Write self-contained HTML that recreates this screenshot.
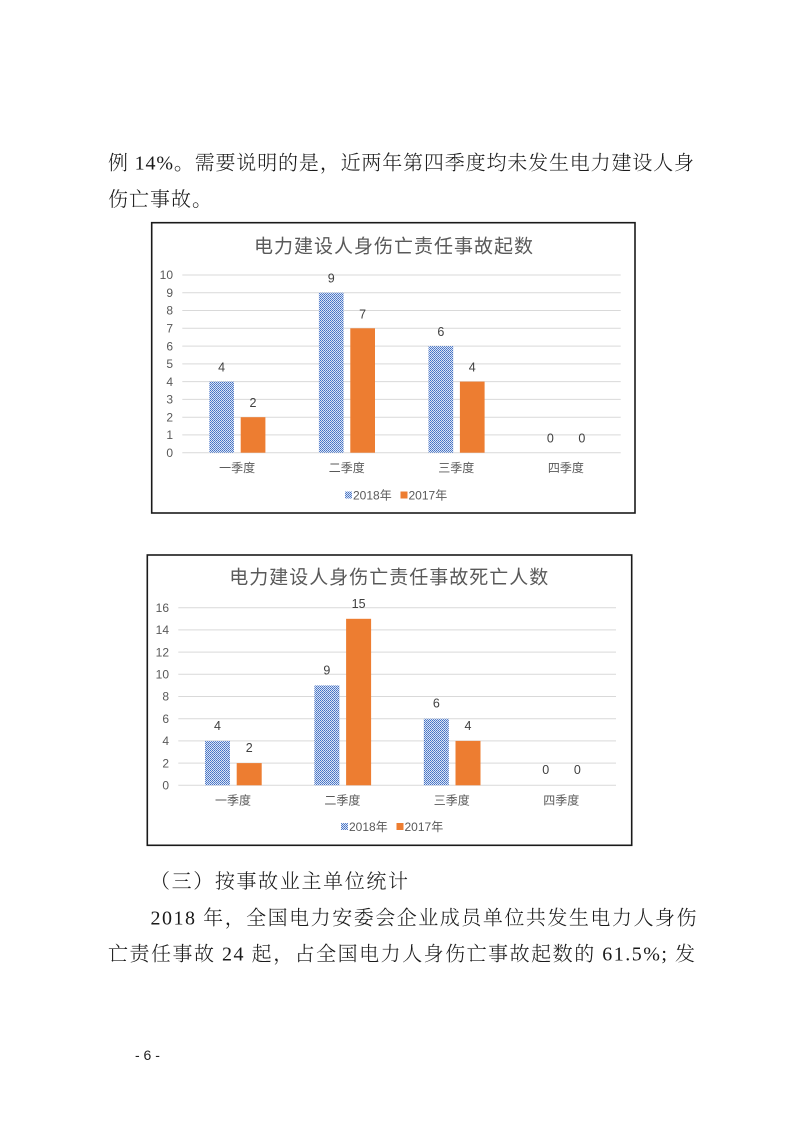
<!DOCTYPE html>
<html>
<head>
<meta charset="utf-8">
<style>
html,body{margin:0;padding:0;background:#fff;}
body{width:800px;height:1131px;overflow:hidden;}
svg{display:block;}
.body{font-family:"Liberation Serif","Noto Serif CJK SC",serif;font-size:20px;fill:#1a1a1a;font-weight:300;}
.ch{font-family:"Liberation Sans","Noto Sans CJK SC",sans-serif;}
.title{font-size:19px;fill:#595959;}
.ax{font-size:12px;fill:#595959;}
.dl{font-size:12.5px;fill:#404040;}
.cat{font-size:12px;fill:#595959;}
.grid{stroke:#d9d9d9;stroke-width:1;}
</style>
</head>
<body>
<svg width="800" height="1131" viewBox="0 0 800 1131" xmlns="http://www.w3.org/2000/svg">
<defs>
<pattern id="dots" width="2" height="2" patternUnits="userSpaceOnUse">
<rect width="2" height="2" fill="#dbe4f5"/>
<rect x="0" y="0" width="1" height="1" fill="#4472C4"/>
<rect x="1" y="1" width="1" height="1" fill="#5a82cc"/>
</pattern>
</defs>
<rect width="800" height="1131" fill="#fff"/>

<!-- top paragraph -->
<text class="body" x="108" y="169.5" textLength="586" lengthAdjust="spacing">例 14%。需要说明的是，近两年第四季度均未发生电力建设人身</text>
<text class="body" x="108" y="206" textLength="104" lengthAdjust="spacing">伤亡事故。</text>

<!-- Chart 1 -->
<rect x="151.7" y="222.7" width="483.3" height="290.3" fill="#fff" stroke="#1a1a1a" stroke-width="1.6"/>
<text class="ch title" x="394" y="252.5" text-anchor="middle" letter-spacing="1">电力建设人身伤亡责任事故起数</text>
<g class="grid">
<line x1="182.3" x2="620.7" y1="452.7" y2="452.7"/>
<line x1="182.3" x2="620.7" y1="434.9" y2="434.9"/>
<line x1="182.3" x2="620.7" y1="417.2" y2="417.2"/>
<line x1="182.3" x2="620.7" y1="399.4" y2="399.4"/>
<line x1="182.3" x2="620.7" y1="381.6" y2="381.6"/>
<line x1="182.3" x2="620.7" y1="363.9" y2="363.9"/>
<line x1="182.3" x2="620.7" y1="346.1" y2="346.1"/>
<line x1="182.3" x2="620.7" y1="328.3" y2="328.3"/>
<line x1="182.3" x2="620.7" y1="310.5" y2="310.5"/>
<line x1="182.3" x2="620.7" y1="292.8" y2="292.8"/>
<line x1="182.3" x2="620.7" y1="275.0" y2="275.0"/>
</g>
<g class="ch ax" text-anchor="end">
<text x="173" y="456.9">0</text>
<text x="173" y="439.1">1</text>
<text x="173" y="421.4">2</text>
<text x="173" y="403.6">3</text>
<text x="173" y="385.8">4</text>
<text x="173" y="368.1">5</text>
<text x="173" y="350.3">6</text>
<text x="173" y="332.5">7</text>
<text x="173" y="314.7">8</text>
<text x="173" y="297.0">9</text>
<text x="173" y="279.2">10</text>
</g>
<rect x="209.3" y="381.6" width="24.7" height="71.1" fill="url(#dots)"/>
<rect x="240.7" y="417.2" width="24.7" height="35.5" fill="#ED7D31"/>
<rect x="318.9" y="292.7" width="24.7" height="160" fill="url(#dots)"/>
<rect x="350.3" y="328.3" width="24.7" height="124.4" fill="#ED7D31"/>
<rect x="428.5" y="346.1" width="24.7" height="106.6" fill="url(#dots)"/>
<rect x="459.9" y="381.6" width="24.7" height="71.1" fill="#ED7D31"/>
<g class="ch dl" text-anchor="middle">
<text x="221.6" y="371.6">4</text>
<text x="253.0" y="407.2">2</text>
<text x="331.2" y="282.7">9</text>
<text x="362.6" y="318.3">7</text>
<text x="440.8" y="336.1">6</text>
<text x="472.2" y="371.6">4</text>
<text x="550.4" y="442.6">0</text>
<text x="581.8" y="442.6">0</text>
</g>
<g class="ch cat" text-anchor="middle">
<text x="237.1" y="472">一季度</text>
<text x="346.7" y="472">二季度</text>
<text x="456.3" y="472">三季度</text>
<text x="565.9" y="472">四季度</text>
</g>
<rect x="345" y="491.5" width="7" height="7" fill="url(#dots)"/>
<text class="ch cat" x="353" y="499.5">2018年</text>
<rect x="400.5" y="491.5" width="7" height="7" fill="#ED7D31"/>
<text class="ch cat" x="408.5" y="499.5">2017年</text>

<!-- Chart 2 -->
<rect x="147.3" y="555" width="484.4" height="290.3" fill="#fff" stroke="#1a1a1a" stroke-width="1.6"/>
<text class="ch title" x="389.3" y="583.5" text-anchor="middle" letter-spacing="1">电力建设人身伤亡责任事故死亡人数</text>
<g class="grid">
<line x1="178.3" x2="616" y1="785.3" y2="785.3"/>
<line x1="178.3" x2="616" y1="763.1" y2="763.1"/>
<line x1="178.3" x2="616" y1="740.9" y2="740.9"/>
<line x1="178.3" x2="616" y1="718.7" y2="718.7"/>
<line x1="178.3" x2="616" y1="696.5" y2="696.5"/>
<line x1="178.3" x2="616" y1="674.3" y2="674.3"/>
<line x1="178.3" x2="616" y1="652.1" y2="652.1"/>
<line x1="178.3" x2="616" y1="629.9" y2="629.9"/>
<line x1="178.3" x2="616" y1="607.7" y2="607.7"/>
</g>
<g class="ch ax" text-anchor="end">
<text x="169" y="789.5">0</text>
<text x="169" y="767.3">2</text>
<text x="169" y="745.1">4</text>
<text x="169" y="722.9">6</text>
<text x="169" y="700.7">8</text>
<text x="169" y="678.5">10</text>
<text x="169" y="656.3">12</text>
<text x="169" y="634.1">14</text>
<text x="169" y="611.9">16</text>
</g>
<rect x="205" y="740.9" width="25" height="44.4" fill="url(#dots)"/>
<rect x="236.7" y="763.1" width="25" height="22.2" fill="#ED7D31"/>
<rect x="314.4" y="685.4" width="25" height="99.9" fill="url(#dots)"/>
<rect x="346.1" y="618.8" width="25" height="166.5" fill="#ED7D31"/>
<rect x="423.8" y="718.7" width="25" height="66.6" fill="url(#dots)"/>
<rect x="455.5" y="740.9" width="25" height="44.4" fill="#ED7D31"/>
<g class="ch dl" text-anchor="middle">
<text x="217.5" y="729.9">4</text>
<text x="249.2" y="752.1">2</text>
<text x="326.9" y="674.4">9</text>
<text x="358.6" y="607.8">15</text>
<text x="436.3" y="707.7">6</text>
<text x="468.0" y="729.9">4</text>
<text x="545.7" y="774.2">0</text>
<text x="577.4" y="774.2">0</text>
</g>
<g class="ch cat" text-anchor="middle">
<text x="233" y="804.5">一季度</text>
<text x="342.4" y="804.5">二季度</text>
<text x="451.8" y="804.5">三季度</text>
<text x="561.2" y="804.5">四季度</text>
</g>
<rect x="341" y="823" width="7" height="7" fill="url(#dots)"/>
<text class="ch cat" x="349" y="831">2018年</text>
<rect x="396.5" y="823" width="7" height="7" fill="#ED7D31"/>
<text class="ch cat" x="404.5" y="831">2017年</text>

<!-- bottom paragraph -->
<text class="body" x="150" y="888" textLength="258" lengthAdjust="spacing">（三）按事故业主单位统计</text>
<text class="body" x="150.5" y="924.5" textLength="546" lengthAdjust="spacing">2018 年，全国电力安委会企业成员单位共发生电力人身伤</text>
<text class="body" x="108" y="960.5" textLength="587" lengthAdjust="spacing">亡责任事故 24 起，占全国电力人身伤亡事故起数的 61.5%; 发</text>

<!-- page number -->
<text x="135" y="1060" font-family="Liberation Sans, sans-serif" font-size="14" fill="#222">- 6 -</text>
</svg>
</body>
</html>
